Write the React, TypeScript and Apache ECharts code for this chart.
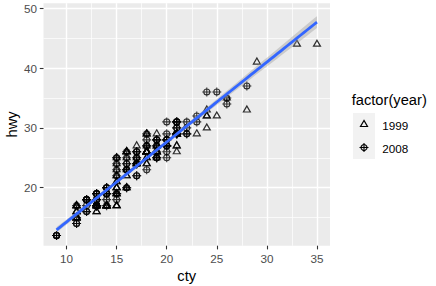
import React, { useEffect, useRef } from "react";
import * as echarts from "echarts";

// mpg dataset: cty, hwy, year (in data order)
const cty = [
  18, 21, 20, 21, 16, 18, 18, 18, 16, 20, 19, 15, 17, 17, 15, 15, 17, 16,
  14, 11, 14, 13, 12, 16, 15, 16, 15, 15, 14, 11, 11, 14, 19, 22, 18, 18, 17,
  18, 17, 16, 16, 17, 17, 11, 15, 15, 16, 16, 15, 14, 13, 14, 14, 14, 9, 11, 11,
  13, 13, 9, 13, 11, 13, 11, 12, 9, 13, 13, 12, 11, 11, 13, 11, 13,
  11, 11, 12, 14, 15, 14, 13, 13, 13, 14, 14, 13, 13, 13, 11, 13, 18, 18, 17, 16, 15, 15, 15, 15, 14,
  28, 24, 25, 23, 24, 26, 25, 24, 21,
  18, 18, 21, 21, 18, 18, 19, 19, 19, 20, 20, 17, 16, 17,
  17, 15, 15, 14, 9, 14, 13, 11,
  11, 12, 12, 11,
  11, 11, 12,
  14, 13, 13, 13,
  21, 19, 23, 23, 19, 19, 18, 19, 19, 14, 15, 14, 12,
  18, 16, 17, 18, 16,
  18, 18, 20, 19, 20, 18, 21, 19, 19, 19, 20, 20, 19, 20,
  15, 16, 15, 15, 16, 14, 21, 21, 21, 21, 18, 18, 19, 21, 21, 21, 22, 18, 18, 18,
  24, 24, 26, 28, 26, 11, 13, 15, 16, 17, 15, 15, 15, 16,
  21, 19, 21, 22, 17, 33, 21, 19, 22, 21, 21, 21, 16, 17, 35, 29, 21, 19, 20, 20,
  21, 18, 19, 21, 16, 18, 17,
];
const hwy = [
  29, 29, 31, 30, 26, 26, 27, 26, 25, 28, 27, 25, 25, 25, 25, 24, 25, 23,
  20, 15, 20, 17, 17, 26, 23, 26, 25, 24, 19, 14, 15, 17, 27, 30, 26, 29, 26,
  24, 24, 22, 22, 24, 24, 17, 22, 21, 23, 23, 19, 18, 17, 17, 19, 19, 12, 17, 15,
  17, 17, 12, 17, 16, 18, 15, 16, 12, 17, 17, 16, 15, 16, 17, 15, 17,
  17, 17, 18, 17, 19, 17, 19, 19, 17, 17, 17, 16, 16, 17, 15, 17, 26, 25, 26, 24, 21, 22, 23, 22, 20,
  33, 32, 32, 29, 32, 34, 36, 36, 29,
  26, 27, 30, 31, 26, 26, 28, 26, 29, 28, 27, 24, 24, 24,
  22, 19, 20, 17, 12, 19, 18, 14,
  15, 18, 18, 15,
  17, 16, 18,
  17, 19, 19, 17,
  29, 27, 31, 32, 27, 26, 26, 25, 25, 17, 17, 20, 18,
  26, 26, 27, 28, 25,
  25, 24, 27, 25, 26, 23, 26, 26, 26, 26, 27, 25, 25, 27,
  20, 20, 19, 17, 20, 17, 29, 27, 31, 31, 26, 26, 28, 27, 29, 31, 31, 26, 26, 27,
  30, 33, 35, 37, 35, 15, 18, 20, 20, 22, 17, 19, 18, 20,
  29, 26, 29, 29, 24, 44, 29, 26, 29, 29, 29, 29, 23, 24, 44, 41, 29, 26, 28, 29,
  29, 29, 28, 29, 26, 26, 26,
];
const year = [
  1999, 1999, 2008, 2008, 1999, 1999, 2008, 1999, 1999, 2008, 2008, 1999, 1999, 2008, 2008, 1999, 2008, 2008,
  2008, 2008, 2008, 1999, 2008, 1999, 1999, 2008, 2008, 2008, 2008, 2008, 1999, 1999, 1999, 2008, 1999, 2008, 2008,
  1999, 1999, 1999, 1999, 2008, 2008, 2008, 1999, 1999, 2008, 2008, 2008, 2008, 1999, 1999, 2008, 2008, 2008, 1999, 1999,
  1999, 2008, 2008, 2008, 1999, 2008, 1999, 2008, 2008, 2008, 2008, 2008, 1999, 1999, 2008, 1999, 2008,
  1999, 1999, 2008, 1999, 1999, 1999, 2008, 2008, 1999, 1999, 1999, 1999, 1999, 2008, 1999, 2008, 1999, 1999, 2008, 2008, 1999, 1999, 2008, 2008, 2008,
  1999, 1999, 1999, 1999, 1999, 2008, 2008, 2008, 2008,
  1999, 1999, 2008, 2008, 1999, 1999, 2008, 1999, 1999, 2008, 2008, 2008, 2008, 2008,
  2008, 2008, 1999, 1999, 2008, 2008, 2008, 2008,
  1999, 2008, 2008, 1999,
  1999, 1999, 2008,
  1999, 2008, 2008, 1999,
  1999, 1999, 2008, 2008, 2008, 2008, 1999, 1999, 2008, 1999, 1999, 2008, 2008,
  1999, 1999, 1999, 2008, 2008,
  1999, 1999, 2008, 2008, 2008, 2008, 1999, 1999, 1999, 1999, 2008, 2008, 2008, 2008,
  1999, 1999, 1999, 1999, 2008, 2008, 1999, 1999, 2008, 2008, 1999, 1999, 2008, 1999, 1999, 2008, 2008, 1999, 1999, 2008,
  1999, 1999, 1999, 2008, 2008, 1999, 2008, 1999, 1999, 2008, 1999, 1999, 2008, 2008,
  1999, 1999, 2008, 2008, 1999, 1999, 1999, 1999, 2008, 2008, 2008, 2008, 1999, 1999, 1999, 1999, 1999, 1999, 2008, 2008,
  1999, 1999, 2008, 2008, 1999, 1999, 2008,
];

const years = [1999, 2008];
const legendLabels = ["1999", "2008"];
const xTicks = [10, 15, 20, 25, 30, 35];
const xMinor = [12.5, 17.5, 22.5, 27.5, 32.5];
const yTicks = [20, 30, 40, 50];
const yMinor = [15, 25, 35, 45];

const FONT = "Liberation Sans, Arial, sans-serif";
const CROSS = "path://M4.5,1.5A3,3 0 1,1 4.5,7.5A3,3 0 1,1 4.5,1.5ZM4.5,0L4.5,9M0,4.5L9,4.5";

function fitLm() {
  const n = cty.length;
  const mx = cty.reduce((a, b) => a + b, 0) / n;
  const my = hwy.reduce((a, b) => a + b, 0) / n;
  let sxx = 0, sxy = 0;
  for (let i = 0; i < n; i++) {
    sxx += (cty[i] - mx) ** 2;
    sxy += (cty[i] - mx) * (hwy[i] - my);
  }
  const b = sxy / sxx;
  const a = my - b * mx;
  let rss = 0;
  for (let i = 0; i < n; i++) rss += (hwy[i] - a - b * cty[i]) ** 2;
  const s = Math.sqrt(rss / (n - 2));
  const t = 1.9702;
  const lo = Math.min(...cty), hi = Math.max(...cty);
  const line: number[][] = [], upper: number[][] = [], lower: number[][] = [];
  for (let k = 0; k < 80; k++) {
    const x = lo + (k * (hi - lo)) / 79;
    const y = a + b * x;
    const se = s * Math.sqrt(1 / n + (x - mx) ** 2 / sxx);
    line.push([x, y]);
    upper.push([x, y + t * se]);
    lower.push([x, y - t * se]);
  }
  return { line, upper, lower };
}

export default function App() {
  const ref = useRef<HTMLDivElement>(null);
  useEffect(() => {
    document.body.style.margin = "0";
    const chart = echarts.init(ref.current!, undefined, { renderer: "svg" });
    const fit = fitLm();
    const pts = (yr: number) =>
      cty.map((c, i) => [c, hwy[i], year[i]]).filter((d) => d[2] === yr).map((d) => [d[0], d[1]]);

    const axisCommon = {
      axisLine: { show: false },
    };

    chart.setOption({
      animation: false,
      grid: [
        {
          left: 43.5, top: 3.2, width: 286.5, height: 242.5,
          show: true, backgroundColor: "#EBEBEB", borderWidth: 0,
          outerBoundsMode: "none",
        },
      ],
      xAxis: [
        {
          type: "value", min: 7.7, max: 36.3, gridIndex: 0,
          ...axisCommon,
          axisTick: { show: true, customValues: xTicks, length: 3.7, lineStyle: { color: "#333333", width: 1.1 } },
          axisLabel: { customValues: xTicks, color: "#4D4D4D", fontSize: 11.7, fontFamily: FONT, margin: 6.6 },
          splitLine: { show: true, lineStyle: { color: "#FFFFFF", width: 1.4 } },
          name: "cty", nameLocation: "middle", nameGap: 23, nameMoveOverlap: false,
          nameTextStyle: { color: "#000000", fontSize: 14.7, fontFamily: FONT },
        },
        {
          type: "value", min: 7.7, max: 36.3, gridIndex: 0,
          ...axisCommon,
          axisTick: { show: false, customValues: xMinor },
          axisLabel: { show: false, customValues: xMinor },
          splitLine: { show: true, lineStyle: { color: "#FFFFFF", width: 0.7 } },
        },
      ],
      yAxis: [
        {
          type: "value", min: 10.3, max: 50.85, gridIndex: 0,
          ...axisCommon,
          axisTick: { show: true, customValues: yTicks, length: 3.7, lineStyle: { color: "#333333", width: 1.1 } },
          axisLabel: { customValues: yTicks, color: "#4D4D4D", fontSize: 11.7, fontFamily: FONT, margin: 6.6 },
          splitLine: { show: true, lineStyle: { color: "#FFFFFF", width: 1.4 } },
          name: "hwy", nameLocation: "middle", nameGap: 24.5, nameMoveOverlap: false,
          nameTextStyle: { color: "#000000", fontSize: 14.7, fontFamily: FONT },
        },
        {
          type: "value", min: 10.3, max: 50.85, gridIndex: 0,
          ...axisCommon,
          axisTick: { show: false, customValues: yMinor },
          axisLabel: { show: false, customValues: yMinor },
          splitLine: { show: true, lineStyle: { color: "#FFFFFF", width: 0.7 } },
        },
      ],
      series: [
        {
          type: "scatter", name: legendLabels[0], xAxisIndex: 0, yAxisIndex: 0, z: 3,
          data: pts(years[0]),
          symbol: "triangle", symbolSize: [7, 6], symbolOffset: [0, -1],
          itemStyle: { color: "none", borderColor: "#000000", borderWidth: 1.2 },
          silent: true,
        },
        {
          type: "scatter", name: legendLabels[1], xAxisIndex: 0, yAxisIndex: 0, z: 3,
          data: pts(years[1]),
          symbol: CROSS, symbolSize: 9,
          itemStyle: { color: "none", borderColor: "#000000", borderWidth: 1.1 },
          silent: true,
        },
        {
          type: "custom", xAxisIndex: 0, yAxisIndex: 0, z: 4, silent: true,
          data: [[fit.line[0][0], fit.line[0][1]]],
          renderItem: (_params: any, api: any) => {
            const up = fit.upper.map((p) => api.coord(p));
            const lo = fit.lower.map((p) => api.coord(p)).reverse();
            return {
              type: "polygon",
              shape: { points: up.concat(lo) },
              style: { fill: "rgba(153,153,153,0.4)", stroke: "none" },
            };
          },
        },
        {
          type: "line", xAxisIndex: 0, yAxisIndex: 0, z: 5, silent: true,
          data: fit.line, showSymbol: false, symbol: "none",
          lineStyle: { color: "#3366FF", width: 2.8 },
        },
      ],
      graphic: [
        {
          type: "text", left: 351.7, top: 92,
          style: { text: "factor(year)", fontSize: 14.7, fontFamily: FONT, fill: "#000000" },
        },
        { type: "rect", shape: { x: 353, y: 113, width: 22, height: 23 }, style: { fill: "#F2F2F2" } },
        { type: "rect", shape: { x: 353, y: 136, width: 22, height: 23 }, style: { fill: "#F2F2F2" } },
        {
          type: "polygon",
          shape: { points: [[364, 120.5], [360.5, 126.5], [367.5, 126.5]] },
          style: { fill: "none", stroke: "#000000", lineWidth: 1.2 },
        },
        {
          type: "circle", shape: { cx: 364, cy: 147.5, r: 3 },
          style: { fill: "none", stroke: "#000000", lineWidth: 1.1 },
        },
        { type: "line", shape: { x1: 364, y1: 143, x2: 364, y2: 152 }, style: { stroke: "#000000", lineWidth: 1.1 } },
        { type: "line", shape: { x1: 359.5, y1: 147.5, x2: 368.5, y2: 147.5 }, style: { stroke: "#000000", lineWidth: 1.1 } },
        {
          type: "text", left: 382.3, top: 119,
          style: { text: legendLabels[0], fontSize: 11.7, fontFamily: FONT, fill: "#000000" },
        },
        {
          type: "text", left: 382.3, top: 142,
          style: { text: legendLabels[1], fontSize: 11.7, fontFamily: FONT, fill: "#000000" },
        },
      ],
    });
    return () => chart.dispose();
  }, []);
  return <div ref={ref} style={{ width: 436, height: 286 }} />;
}
